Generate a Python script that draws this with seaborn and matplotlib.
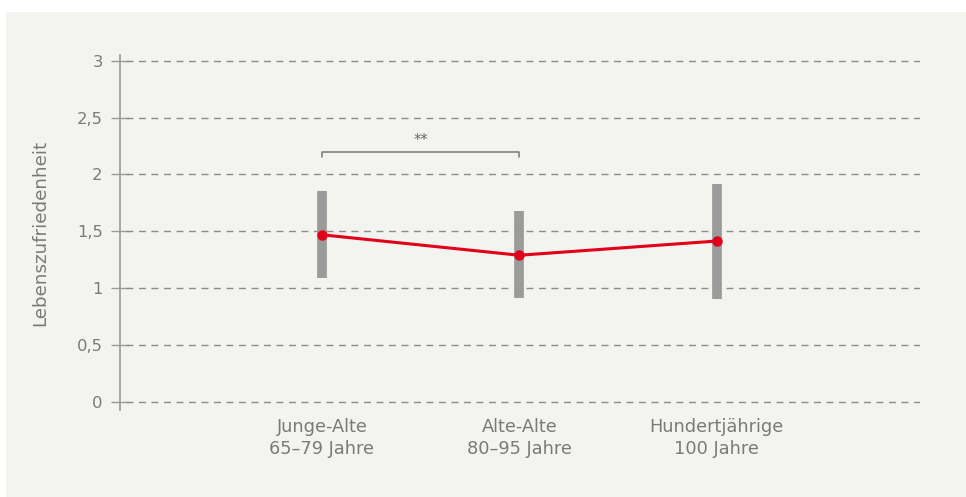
import matplotlib
matplotlib.use("Agg")
import matplotlib.pyplot as plt
import seaborn as sns
import pandas as pd
from matplotlib.patches import Rectangle

categories = ["Junge-Alte\n65–79 Jahre", "Alte-Alte\n80–95 Jahre", "Hundertjährige\n100 Jahre"]
means = [1.47, 1.29, 1.415]
lower = [1.09, 0.915, 0.905]
upper = [1.855, 1.68, 1.915]
yticks = [0, 0.5, 1, 1.5, 2, 2.5, 3]
ytick_labels = ["0", "0,5", "1", "1,5", "2", "2,5", "3"]
ylabel = "Lebenszufriedenheit"
sig_label = "**"
sig_pair = (0, 1)
sig_y = 2.2

sns.set_theme(style="white")
plt.rcParams["font.family"] = ["DejaVu Sans"]

BG = "#f3f3ef"
TXT = "#7a7a7a"
GRID = "#8c8c8c"

fig = plt.figure(figsize=(9.66, 4.97), dpi=100)
fig.patch.set_facecolor("white")
fig.add_artist(Rectangle((6 / 966, 0), 1, (497 - 12) / 497, transform=fig.transFigure,
                         facecolor=BG, edgecolor="none", zorder=0))

ax = fig.add_axes([120 / 966, (497 - 410) / 497, 800 / 966, 355 / 497])
ax.set_facecolor("none")

df = pd.DataFrame({"x": range(len(categories)), "mean": means, "lo": lower, "hi": upper})

ax.vlines(df["x"], df["lo"], df["hi"], color="#9b9b9b", linewidth=7, zorder=2)
sns.lineplot(data=df, x="x", y="mean", ax=ax, color="#e2001a", linewidth=2.2,
             marker="o", markersize=7.5, markeredgewidth=0, zorder=3)

ax.set_xlim(-1.023, 3.03)
ax.set_ylim(-0.07, 3.05)
ax.set_yticks(yticks)
ax.set_yticklabels(ytick_labels)
ax.set_xticks(range(len(categories)))
ax.set_xticklabels(categories, linespacing=1.28)

for y in yticks:
    ax.axhline(y, xmin=0.008, xmax=1, color=GRID, linewidth=1, linestyle=(0, (5, 4)), zorder=1)

for s in ["top", "right", "bottom"]:
    ax.spines[s].set_visible(False)
ax.spines["left"].set_color("#9a9a9a")
ax.spines["left"].set_linewidth(1.2)

ax.tick_params(axis="y", left=True, direction="inout", length=13, width=1.0, color="#9a9a9a",
               labelcolor=TXT, labelsize=11.8, pad=6)
ax.tick_params(axis="x", bottom=False, length=0, labelcolor=TXT, labelsize=12.8, pad=6)
ax.set_xlabel("")
ax.set_ylabel(ylabel, color=TXT, fontsize=13.2, labelpad=20)

# significance bracket
x0, x1 = sig_pair
ax.plot([x0, x0, x1, x1], [sig_y - 0.05, sig_y, sig_y, sig_y - 0.05], color="#777777",
        linewidth=1.1, zorder=3)
ax.text((x0 + x1) / 2, sig_y + 0.03, sig_label, ha="center", va="bottom", color="#666666",
        fontsize=10.5)

fig.savefig("out.png", dpi=100, facecolor=fig.get_facecolor())
